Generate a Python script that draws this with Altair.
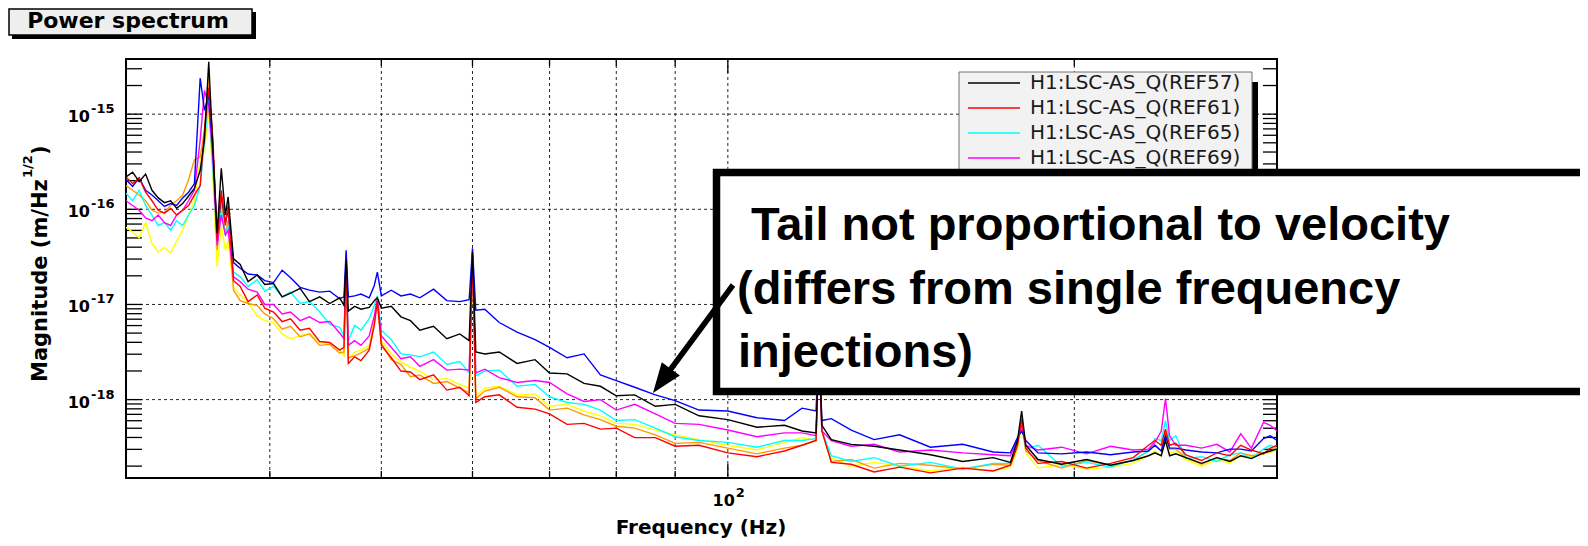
import altair as alt
import pandas as pd

# ---------------- data ----------------
freq_hz = [30.0, 30.4, 30.8, 31.2, 31.6, 32.0, 32.4, 32.8, 33.2, 33.6, 34.0, 34.4, 34.8, 35.1, 35.4,
           35.7, 36.0, 36.3, 36.6, 36.8, 37.2, 37.7,
           38.3, 39.0, 39.6, 40.3, 41.0, 41.7, 42.5, 43.3, 44.2, 45.1, 46.0, 46.4,
           46.6, 46.8, 47.4, 48.0, 48.8, 49.3, 49.6, 50.0,
           51.0, 52.0, 53.0, 54.0, 55.5, 57.0, 58.5, 59.6,
           60.0, 60.4, 61.5, 63.3, 65.6, 68.0,
           70.0, 72.5, 75.0, 77.5, 80.0, 83.0, 86.5, 90.0, 94.4, 100.0,
           106.0, 112.0, 116.0, 119.3, 120.0, 120.7,
           123.0, 128.0, 134.0, 141.0, 150.0, 160.0, 170.0,
           176.0, 178.5, 180.0, 181.5, 186.0,
           195.0, 205.0, 215.0, 225.0, 232.0,
           235.0, 238.0, 240.0, 242.0, 245.0, 250.0,
           258.0, 266.0, 273.0, 279.0, 285.0, 292.0, 296.0, 300.0]

# log10 of magnitude (m/Hz^1/2), one list per reference trace
log10_ref57 = [-15.66, -15.61, -15.71, -15.63, -15.80, -15.88, -15.93, -15.91, -15.99, -15.94, -15.86, -15.78, -15.59, -15.27, -14.45,
               -15.38, -16.25, -15.57, -16.06, -15.87, -16.52, -16.58,
               -16.76, -16.69, -16.79, -16.78, -16.92, -16.88, -16.83, -16.97, -16.92, -16.99, -16.93, -17.01,
               -16.52, -17.07, -17.02, -17.05, -17.03, -16.96, -16.93, -17.04,
               -17.02, -17.13, -17.17, -17.27, -17.23, -17.36, -17.31, -17.38,
               -16.45, -17.50, -17.52, -17.50, -17.62, -17.58,
               -17.72, -17.73, -17.83, -17.86, -17.96, -17.95, -18.07, -18.05, -18.17, -18.21,
               -18.29, -18.27, -18.33, -18.35, -17.38, -18.27,
               -18.42, -18.47, -18.49, -18.53, -18.58, -18.65, -18.61,
               -18.66, -18.43, -18.12, -18.48, -18.63,
               -18.68, -18.63, -18.69, -18.64, -18.59,
               -18.56, -18.59, -18.43, -18.59, -18.57, -18.61,
               -18.67, -18.61, -18.65, -18.59, -18.62, -18.56, -18.54, -18.52]
log10_ref61 = [-15.66, -15.73, -15.67, -15.82, -15.91, -16.01, -16.04, -15.99, -16.06, -16.01, -15.96, -15.85, -15.75, -15.17, -14.72,
               -15.27, -16.33, -15.80, -16.17, -15.96, -16.75, -16.81,
               -16.97, -16.90, -17.04, -17.08, -17.18, -17.15, -17.27, -17.25, -17.39, -17.40, -17.48, -17.45,
               -16.52, -17.62, -17.55, -17.59, -17.48, -17.22, -16.96, -17.43,
               -17.56, -17.70, -17.71, -17.79, -17.74, -17.90, -17.87, -17.96,
               -16.48, -18.03, -17.97, -17.95, -18.08, -18.10,
               -18.15, -18.26, -18.25, -18.31, -18.30, -18.40, -18.40, -18.49, -18.48, -18.56,
               -18.60, -18.54, -18.48, -18.43, -17.38, -18.33,
               -18.66, -18.68, -18.76, -18.71, -18.77, -18.72, -18.75,
               -18.69, -18.48, -18.20, -18.51, -18.67,
               -18.65, -18.72, -18.67, -18.61, -18.48,
               -18.43, -18.48, -18.31, -18.48, -18.46, -18.58,
               -18.64, -18.56, -18.59, -18.48, -18.53, -18.57, -18.51, -18.48]
log10_ref65 = [-15.83, -15.91, -15.80, -15.96, -16.06, -16.17, -16.14, -16.22, -16.12, -16.17, -16.06, -15.96, -15.75, -15.27, -14.85,
               -15.59, -16.36, -16.01, -16.27, -16.17, -16.66, -16.71,
               -16.81, -16.74, -16.86, -16.81, -16.92, -16.87, -16.99, -16.97, -17.08, -17.21, -17.24, -17.33,
               -16.54, -17.38, -17.22, -17.27, -17.15, -17.01, -16.91, -17.27,
               -17.37, -17.52, -17.53, -17.55, -17.50, -17.63, -17.60, -17.72,
               -16.52, -17.75, -17.70, -17.69, -17.86, -17.84,
               -17.97, -18.03, -18.05, -18.11, -18.22, -18.21, -18.30, -18.39, -18.43, -18.45,
               -18.50, -18.43, -18.43, -18.41, -17.38, -18.33,
               -18.59, -18.65, -18.61, -18.70, -18.66, -18.73, -18.67,
               -18.67, -18.43, -18.24, -18.52, -18.48,
               -18.70, -18.66, -18.71, -18.63, -18.54,
               -18.41, -18.43, -18.22, -18.43, -18.38, -18.62,
               -18.60, -18.65, -18.58, -18.56, -18.62, -18.52, -18.48, -18.51]
log10_ref69 = [-15.91, -15.96, -16.01, -16.09, -16.12, -16.06, -16.14, -16.17, -16.06, -16.01, -15.91, -15.80, -15.27, -14.75, -14.91,
               -15.48, -16.38, -16.06, -16.27, -16.22, -16.71, -16.76,
               -16.84, -16.87, -17.00, -17.00, -17.10, -17.08, -17.17, -17.13, -17.19, -17.18, -17.30, -17.36,
               -16.48, -17.43, -17.38, -17.43, -17.33, -17.12, -16.94, -17.33,
               -17.45, -17.57, -17.55, -17.65, -17.58, -17.69, -17.68, -17.69,
               -16.48, -17.72, -17.68, -17.77, -17.82, -17.80,
               -17.82, -17.94, -18.02, -18.00, -18.11, -18.05, -18.15, -18.25, -18.26, -18.32,
               -18.39, -18.35, -18.35, -18.38, -17.38, -18.33,
               -18.43, -18.49, -18.47, -18.55, -18.53, -18.56, -18.58,
               -18.59, -18.43, -18.27, -18.48, -18.53,
               -18.50, -18.57, -18.49, -18.53, -18.52,
               -18.45, -18.33, -17.99, -18.38, -18.48, -18.48,
               -18.51, -18.47, -18.55, -18.36, -18.51, -18.24, -18.27, -18.33]
log10_ref73 = [-15.69, -15.76, -15.67, -15.80, -15.85, -15.91, -15.97, -15.94, -15.96, -15.88, -15.82, -15.73, -14.62, -14.96, -14.80,
               -15.38, -16.27, -15.85, -16.14, -16.01, -16.56, -16.62,
               -16.68, -16.69, -16.75, -16.77, -16.64, -16.72, -16.82, -16.85, -16.87, -16.86, -16.94, -16.92,
               -16.43, -16.92, -16.91, -16.89, -16.93, -16.80, -16.66, -16.91,
               -16.85, -16.91, -16.89, -16.93, -16.84, -16.96, -16.97, -16.95,
               -16.41, -17.06, -17.05, -17.19, -17.29, -17.37,
               -17.45, -17.56, -17.52, -17.74, -17.80, -17.87, -17.95, -18.01, -18.11, -18.12,
               -18.19, -18.22, -18.09, -18.12, -17.38, -18.22,
               -18.20, -18.32, -18.42, -18.37, -18.50, -18.47, -18.55,
               -18.56, -18.40, -18.33, -18.43, -18.56,
               -18.57, -18.55, -18.58, -18.55, -18.54,
               -18.48, -18.54, -18.38, -18.51, -18.51, -18.53,
               -18.55, -18.56, -18.52, -18.52, -18.54, -18.41, -18.38, -18.43]
log10_ref77 = [-16.19, -16.24, -16.30, -16.14, -16.36, -16.45, -16.40, -16.46, -16.33, -16.22, -16.06, -15.91, -15.48, -15.38, -14.96,
               -15.69, -16.61, -16.17, -16.43, -16.33, -16.83, -16.90,
               -16.98, -17.12, -17.17, -17.19, -17.31, -17.36, -17.33, -17.30, -17.40, -17.41, -17.48, -17.54,
               -16.59, -17.57, -17.50, -17.48, -17.43, -17.17, -16.96, -17.38,
               -17.52, -17.60, -17.66, -17.70, -17.79, -17.78, -17.84, -17.88,
               -16.54, -17.96, -17.88, -17.86, -17.95, -17.94,
               -18.07, -18.05, -18.12, -18.17, -18.25, -18.26, -18.32, -18.37, -18.42, -18.48,
               -18.53, -18.45, -18.40, -18.43, -17.38, -18.33,
               -18.61, -18.70, -18.66, -18.70, -18.75, -18.71, -18.75,
               -18.71, -18.52, -18.27, -18.56, -18.72,
               -18.68, -18.73, -18.71, -18.67, -18.59,
               -18.54, -18.59, -18.38, -18.56, -18.54, -18.63,
               -18.70, -18.63, -18.67, -18.59, -18.60, -18.57, -18.56, -18.52]
log10_ref81 = [-15.75, -15.80, -15.85, -15.91, -16.01, -16.04, -16.03, -15.96, -15.91, -15.85, -15.69, -15.48, -15.45, -15.17, -14.59,
               -15.38, -16.43, -15.91, -16.27, -16.12, -16.85, -16.96,
               -16.99, -17.01, -17.10, -17.15, -17.26, -17.23, -17.34, -17.31, -17.43, -17.42, -17.51, -17.50,
               -16.56, -17.56, -17.54, -17.51, -17.46, -17.19, -16.96, -17.41,
               -17.58, -17.63, -17.76, -17.74, -17.83, -17.81, -17.88, -17.93,
               -16.52, -17.99, -17.91, -17.87, -17.97, -17.98,
               -18.11, -18.09, -18.16, -18.21, -18.28, -18.30, -18.37, -18.46, -18.45, -18.51,
               -18.57, -18.51, -18.48, -18.43, -17.38, -18.33,
               -18.65, -18.63, -18.72, -18.67, -18.69, -18.73, -18.68,
               -18.69, -18.48, -18.22, -18.54, -18.64,
               -18.72, -18.64, -18.69, -18.64, -18.54,
               -18.48, -18.54, -18.33, -18.52, -18.52, -18.61,
               -18.68, -18.61, -18.64, -18.56, -18.59, -18.57, -18.54, -18.51]

series_names = ["H1:LSC-AS_Q(REF57)", "H1:LSC-AS_Q(REF61)", "H1:LSC-AS_Q(REF65)",
                "H1:LSC-AS_Q(REF69)", "H1:LSC-AS_Q(REF73)", "H1:LSC-AS_Q(REF77)",
                "H1:LSC-AS_Q(REF81)"]
series_colors = ["#000000", "#ff0000", "#00ffff", "#ff00ff", "#0000ff", "#ffff00", "#ff9900"]
series_values = [log10_ref57, log10_ref61, log10_ref65, log10_ref69,
                 log10_ref73, log10_ref77, log10_ref81]
draw_order = [5, 6, 2, 3, 4, 1, 0]   # bottom -> top
legend_visible = 4                    # the rest of the legend is hidden behind the call-out box

grid_freqs = [40, 50, 60, 70, 80, 90, 100, 200]
grid_mags = [1e-15, 1e-16, 1e-17, 1e-18]
x_minor_ticks = [40, 50, 60, 70, 80, 90, 200]
x_major_ticks = [100]
y_ticks = [2e-19, 3e-19, 4e-19, 5e-19, 6e-19, 7e-19, 8e-19, 9e-19,
           1e-18, 2e-18, 3e-18, 4e-18, 5e-18, 6e-18, 7e-18, 8e-18, 9e-18,
           1e-17, 2e-17, 3e-17, 4e-17, 5e-17, 6e-17, 7e-17, 8e-17, 9e-17,
           1e-16, 2e-16, 3e-16, 4e-16, 5e-16, 6e-16, 7e-16, 8e-16, 9e-16,
           1e-15, 2e-15, 3e-15]
y_label_vals = [1e-15, 1e-16, 1e-17, 1e-18]
y_label_exps = ["-15", "-16", "-17", "-18"]
x_label_vals = [100]
x_label_exps = ["2"]

# ---------------- chart ----------------
W, H = 1151, 419
FONT = "DejaVu Sans"
xs = alt.Scale(type="log", domain=[30, 300], nice=False)
ys = alt.Scale(type="log", domain=[1.5e-19, 3.8e-15], nice=False)
one = pd.DataFrame({"k": [0]})
layers = []

# grid
layers.append(alt.Chart(pd.DataFrame({"f": grid_freqs})).mark_rule(
    color="#000000", strokeWidth=1, strokeDash=[3, 3], opacity=0.85
).encode(x=alt.X("f:Q", scale=xs, axis=None)))
layers.append(alt.Chart(pd.DataFrame({"m": grid_mags})).mark_rule(
    color="#000000", strokeWidth=1, strokeDash=[3, 3], opacity=0.85
).encode(y=alt.Y("m:Q", scale=ys, axis=None)))

# ticks (inside the frame, ROOT style)
ytick_df = pd.DataFrame({"m": y_ticks})
layers.append(alt.Chart(ytick_df).mark_rule(color="black", strokeWidth=1.3).encode(
    y=alt.Y("m:Q", scale=ys, axis=None), x=alt.value(0), x2=alt.value(16)))
layers.append(alt.Chart(ytick_df).mark_rule(color="black", strokeWidth=1.3).encode(
    y=alt.Y("m:Q", scale=ys, axis=None), x=alt.value(W - 14), x2=alt.value(W)))
xminor_df = pd.DataFrame({"f": x_minor_ticks})
xmajor_df = pd.DataFrame({"f": x_major_ticks})
for dfx, ln in ((xminor_df, 7), (xmajor_df, 14)):
    layers.append(alt.Chart(dfx).mark_rule(color="black", strokeWidth=1.3).encode(
        x=alt.X("f:Q", scale=xs, axis=None), y=alt.value(H - ln), y2=alt.value(H)))
    layers.append(alt.Chart(dfx).mark_rule(color="black", strokeWidth=1.3).encode(
        x=alt.X("f:Q", scale=xs, axis=None), y=alt.value(0), y2=alt.value(ln)))

# spectra
for i in draw_order:
    d = pd.DataFrame({"freq": freq_hz,
                      "mag": [10 ** v for v in series_values[i]],
                      "series": series_names[i]})
    layers.append(alt.Chart(d).mark_line(color=series_colors[i], strokeWidth=1.4, clip=True).encode(
        x=alt.X("freq:Q", scale=xs, axis=None),
        y=alt.Y("mag:Q", scale=ys, axis=None)))

# axis labels
ylab = pd.DataFrame({"m": y_label_vals, "base": ["10"] * 4, "exp": y_label_exps})
layers.append(alt.Chart(ylab).mark_text(font=FONT, fontSize=16, fontWeight="bold", align="right",
                                        baseline="alphabetic", dy=8).encode(
    y=alt.Y("m:Q", scale=ys, axis=None), x=alt.value(-36), text="base:N"))
layers.append(alt.Chart(ylab).mark_text(font=FONT, fontSize=13, fontWeight="bold", align="left",
                                        baseline="alphabetic", dy=-1).encode(
    y=alt.Y("m:Q", scale=ys, axis=None), x=alt.value(-35), text="exp:N"))
xlab = pd.DataFrame({"f": x_label_vals, "base": ["10"], "exp": x_label_exps})
layers.append(alt.Chart(xlab).mark_text(font=FONT, fontSize=16, fontWeight="bold", align="right",
                                        baseline="alphabetic", dx=7).encode(
    x=alt.X("f:Q", scale=xs, axis=None), y=alt.value(447), text="base:N"))
layers.append(alt.Chart(xlab).mark_text(font=FONT, fontSize=13, fontWeight="bold", align="left",
                                        baseline="alphabetic", dx=8).encode(
    x=alt.X("f:Q", scale=xs, axis=None), y=alt.value(438), text="exp:N"))

# axis titles
layers.append(alt.Chart(one).mark_text(text="Frequency (Hz)", font=FONT, fontSize=20, fontWeight="bold",
                                       align="center", baseline="alphabetic").encode(
    x=alt.value(575), y=alt.value(475)))
layers.append(alt.Chart(one).mark_text(text="Magnitude (m/Hz", font=FONT, fontSize=21, fontWeight="bold",
                                       align="left", baseline="alphabetic", angle=270).encode(
    x=alt.value(-79), y=alt.value(323)))
layers.append(alt.Chart(one).mark_text(text="1/2", font=FONT, fontSize=13, fontWeight="bold",
                                       align="left", baseline="alphabetic", angle=270).encode(
    x=alt.value(-94), y=alt.value(119)))
layers.append(alt.Chart(one).mark_text(text=")", font=FONT, fontSize=21, fontWeight="bold",
                                       align="left", baseline="alphabetic", angle=270).encode(
    x=alt.value(-79), y=alt.value(96)))

# legend (shadow, box, visible entries)
layers.append(alt.Chart(one).mark_rect(color="black").encode(
    x=alt.value(1126), x2=alt.value(1132), y=alt.value(23), y2=alt.value(204)))
layers.append(alt.Chart(one).mark_rect(fill="#f2f2f2", stroke="#707070", strokeWidth=1).encode(
    x=alt.value(833), x2=alt.value(1126), y=alt.value(13), y2=alt.value(198)))
for i in range(legend_visible):
    yy = 24 + 25 * i
    layers.append(alt.Chart(one).mark_rule(color=series_colors[i], strokeWidth=1.5).encode(
        x=alt.value(842), x2=alt.value(894), y=alt.value(yy)))
    layers.append(alt.Chart(one).mark_text(text=series_names[i], font=FONT, fontSize=20, color="#1a1a1a",
                                           align="left", baseline="middle").encode(
        x=alt.value(904), y=alt.value(yy)))

# title box
layers.append(alt.Chart(one).mark_rect(color="black").encode(
    x=alt.value(-114), x2=alt.value(130), y=alt.value(-47), y2=alt.value(-20)))
layers.append(alt.Chart(one).mark_rect(fill="#eeeeee", stroke="black", strokeWidth=1.5).encode(
    x=alt.value(-117), x2=alt.value(126), y=alt.value(-50), y2=alt.value(-24)))
layers.append(alt.Chart(one).mark_text(text="Power spectrum", font=FONT, fontSize=22, fontWeight="bold",
                                       align="center", baseline="alphabetic").encode(
    x=alt.value(2), y=alt.value(-31)))

# annotation box, text and arrow
layers.append(alt.Chart(one).mark_rect(fill="white", stroke="black", strokeWidth=7.5).encode(
    x=alt.value(590.5), x2=alt.value(1480), y=alt.value(113.5), y2=alt.value(332.5)))
ann_lines = ["Tail not proportional to velocity", "(differs from single frequency", "injections)"]
ann_x = [625, 611, 612]
ann_y = [181, 245, 308]
for t, ax, ay in zip(ann_lines, ann_x, ann_y):
    layers.append(alt.Chart(one).mark_text(text=t, font="Liberation Sans", fontSize=47, fontWeight="bold",
                                           color="black", align="left", baseline="alphabetic").encode(
        x=alt.value(ax), y=alt.value(ay)))
layers.append(alt.Chart(one).mark_rule(color="black", strokeWidth=5.5).encode(
    x=alt.value(607), y=alt.value(226), x2=alt.value(536), y2=alt.value(322)))
layers.append(alt.Chart(one).mark_point(shape="M0,-1L0.75,1L-0.75,1Z", filled=True, size=900,
                                        angle=216.5, color="black", opacity=1).encode(
    x=alt.value(535.9), y=alt.value(321.9)))

chart = alt.layer(*layers).properties(
    width=W, height=H,
    autosize=alt.AutoSizeParams(type="none"),
    padding={"left": 118, "top": 51, "right": 303, "bottom": 60},
).configure_view(stroke="black", strokeWidth=2)

chart.save("out.html", embed_options={"renderer": "svg", "actions": False})
